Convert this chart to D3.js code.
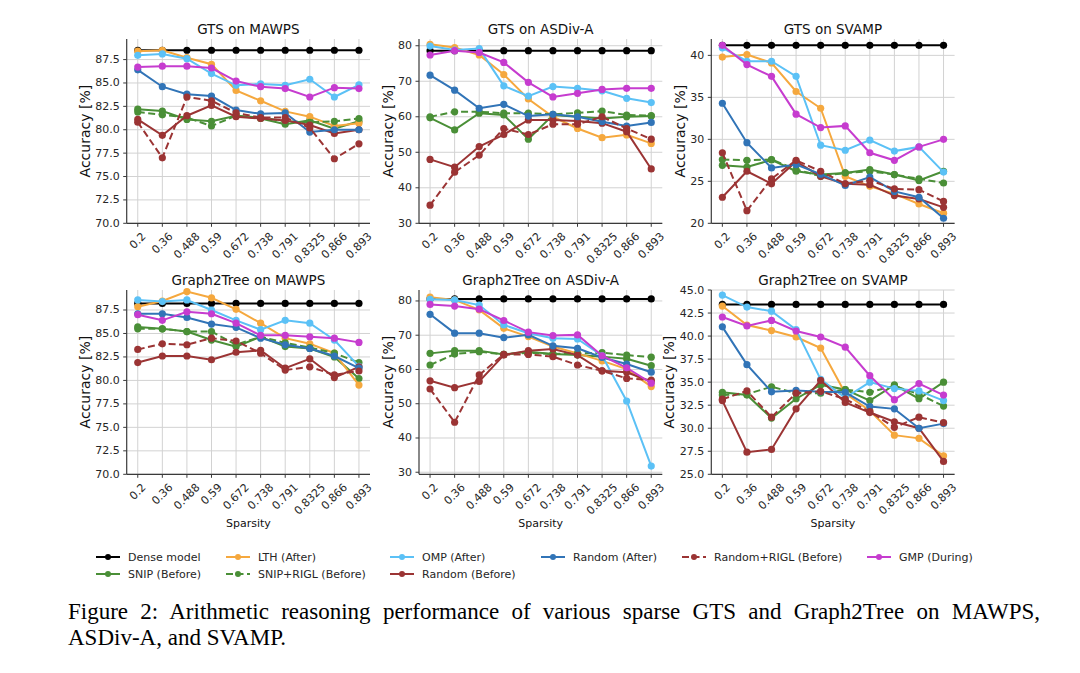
<!DOCTYPE html>
<html><head><meta charset="utf-8">
<script src="https://cdn.jsdelivr.net/npm/d3@7"></script>
<style>body{margin:0;background:#fff}svg{display:block}</style>
</head><body>
<svg id="fig" width="1080" height="673"></svg>
<script>
// ---------- data ----------
const sparsity = ["0.2","0.36","0.488","0.59","0.672","0.738","0.791","0.8325","0.866","0.893"];
const seriesNames = ["Dense model","SNIP (Before)","LTH (After)","SNIP+RIGL (Before)","OMP (After)","Random (Before)","Random (After)","Random+RIGL (Before)","GMP (During)"];
const seriesColors = ["#000000","#4a8f37","#f5a83e","#4a8f37","#5bc1f6","#9b3434","#3174b7","#9b3434","#c63ccf"];
const seriesDashed = [false,false,false,true,false,false,false,true,false];

// series order: Dense, SNIP, LTH, SNIP+RIGL, OMP, Random(Before), Random(After), Random+RIGL, GMP
const gtsMawps = [
  [88.5,88.5,88.5,88.5,88.5,88.5,88.5,88.5,88.5,88.5],
  [82.2,82.0,81.1,80.9,81.5,81.2,80.6,81.0,80.1,80.9],
  [88.4,88.5,87.7,87.0,84.2,83.1,81.96,81.4,80.4,80.7],
  [81.9,81.6,81.3,80.4,81.5,81.3,80.9,80.8,80.9,81.2],
  [87.96,88.1,87.6,86.0,84.75,84.9,84.75,85.4,83.5,84.8],
  [81.1,79.4,81.5,82.6,81.4,81.2,81.0,80.5,79.6,80.0],
  [86.4,84.6,83.8,83.6,82.1,81.7,81.8,79.75,80.0,80.0],
  [80.8,77.0,83.5,83.1,81.8,81.3,81.3,80.2,76.9,78.5],
  [86.7,86.8,86.8,86.6,85.2,84.6,84.4,83.5,84.5,84.4]
];
const gtsAsdiv = [
  [78.6,78.6,78.6,78.6,78.6,78.6,78.6,78.6,78.6,78.6],
  [59.7,56.3,61.0,60.5,53.7,60.5,60.0,59.5,60.0,60.2],
  [80.4,79.5,77.4,71.9,65.0,60.0,56.7,54.1,54.9,52.5],
  [60.0,61.4,61.4,61.0,61.0,60.7,61.1,61.6,60.5,60.3],
  [79.9,78.8,79.2,68.7,65.8,68.5,68.0,67.3,65.2,64.0],
  [48.0,45.8,51.6,55.0,59.1,59.1,58.8,58.2,55.8,45.3],
  [71.7,67.5,62.4,63.5,60.2,60.7,60.0,58.6,57.4,58.4],
  [35.1,44.4,49.2,56.7,55.0,57.9,57.9,60.0,56.7,53.7],
  [77.4,78.6,78.1,75.3,69.7,65.6,66.6,67.7,68.0,68.0]
];
const gtsSvamp = [
  [41.2,41.2,41.2,41.2,41.2,41.2,41.2,41.2,41.2,41.2],
  [26.9,26.7,27.55,26.2,25.8,26.0,26.4,25.8,25.1,26.2],
  [39.8,40.1,39.1,35.7,33.7,25.6,24.4,23.5,22.3,21.2],
  [27.6,27.5,27.6,26.4,25.6,26.0,26.2,25.8,25.3,24.8],
  [40.9,39.3,39.3,37.5,29.3,28.7,29.9,28.6,29.1,26.1],
  [23.1,26.2,24.7,27.35,25.6,24.7,24.6,23.3,22.9,21.9],
  [34.3,29.6,26.6,27.0,25.85,24.5,25.5,23.8,23.1,20.6],
  [28.4,21.5,25.3,27.5,26.2,24.7,25.1,24.1,24.0,22.6],
  [41.2,38.9,37.5,33.0,31.4,31.6,28.4,27.5,29.1,30.0]
];
const g2tMawps = [
  [88.2,88.2,88.2,88.2,88.2,88.2,88.2,88.2,88.2,88.2],
  [85.7,85.5,85.2,84.3,83.6,84.65,83.6,83.4,82.5,80.2],
  [87.85,88.46,89.46,88.8,87.57,86.1,84.5,83.9,82.9,79.5],
  [85.5,85.5,85.2,85.2,83.8,84.65,84.0,83.5,82.9,81.9],
  [88.57,88.4,88.57,87.5,86.4,85.4,86.4,86.1,84.3,81.5],
  [81.9,82.6,82.6,82.2,83.0,83.2,81.3,82.3,80.3,81.45],
  [87.1,87.1,86.7,86.0,85.65,84.5,83.8,83.4,82.6,81.3],
  [83.3,83.9,83.8,84.5,84.2,82.9,81.1,81.45,80.6,81.0],
  [87.0,86.4,87.3,87.1,86.1,84.8,84.8,84.65,84.5,84.05]
];
const g2tAsdiv = [
  [80.6,80.6,80.6,80.6,80.6,80.6,80.6,80.6,80.6,80.6],
  [64.7,65.5,65.5,64.4,65.2,64.5,64.2,63.75,63.1,61.1],
  [81.1,80.3,77.4,72.0,69.6,66.7,64.7,62.5,60.1,55.0],
  [61.3,64.5,65.2,64.4,64.9,64.5,64.7,64.9,64.2,63.6],
  [80.5,80.3,78.8,73.0,70.6,69.1,68.9,64.0,50.8,31.8],
  [56.7,54.7,56.5,64.2,65.5,66.0,64.2,59.6,59.2,56.5],
  [76.1,70.6,70.6,69.3,70.1,66.9,66.2,63.5,61.6,59.2],
  [54.3,44.6,58.4,64.4,64.4,63.75,61.3,59.6,57.4,56.9],
  [79.0,78.5,77.6,74.3,70.9,69.9,70.1,64.0,60.5,56.0]
];
const g2tSvamp = [
  [43.44,43.44,43.44,43.44,43.44,43.44,43.44,43.44,43.44,43.44],
  [33.9,33.6,31.1,33.2,34.7,34.2,33.0,34.7,33.2,35.0],
  [43.26,41.2,40.6,39.9,38.7,33.8,31.9,29.25,28.9,27.0],
  [33.6,33.7,34.5,33.8,33.8,34.2,33.9,34.6,33.7,32.4],
  [44.45,43.15,42.7,40.7,35.3,33.3,35.0,34.3,34.05,33.0],
  [33.0,27.4,27.7,32.1,35.2,32.8,31.7,30.7,30.0,26.4],
  [41.0,36.9,33.95,34.1,33.95,33.9,32.35,32.1,30.0,30.5],
  [33.15,34.05,31.2,33.8,34.0,33.15,31.8,30.1,31.2,30.6],
  [42.07,41.1,41.7,40.55,39.9,38.8,35.7,33.1,34.85,33.6]
];

const panelTitles = ["GTS on MAWPS","GTS on ASDiv-A","GTS on SVAMP","Graph2Tree on MAWPS","Graph2Tree on ASDiv-A","Graph2Tree on SVAMP"];
const panelData = [gtsMawps, gtsAsdiv, gtsSvamp, g2tMawps, g2tAsdiv, g2tSvamp];
const ticksMawps = [70,72.5,75,77.5,80,82.5,85,87.5];
const ticksAsdiv = [30,40,50,60,70,80];
const ticksGtsSvamp = [20,25,30,35,40];
const ticksG2tSvamp = [25,27.5,30,32.5,35,37.5,40,42.5,45];
const panelTicks = [ticksMawps, ticksAsdiv, ticksGtsSvamp, ticksMawps, ticksAsdiv, ticksG2tSvamp];
const panelFormats = [".1f","d","d",".1f","d",".1f"];
const panelYDomains = [[70,89.7],[30,81.9],[20,41.95],[70,89.63],[29.4,83.2],[25,45]];
const captionLines = ["Figure 2: Arithmetic reasoning performance of various sparse GTS and Graph2Tree on MAWPS,","ASDiv-A, and SVAMP."];

// ---------- layout ----------
const svg = d3.select("#fig");
const FONT = "DejaVu Sans, sans-serif";
const axW = 243.3, axH = 184.3;
const colX = [126.7, 419.0, 711.3];
const rowY = [39, 290];
const gridColor = "#d2d2d2", spineColor = "#3a3a3a", textColor = "#262626";

panelData.forEach((data, p) => {
  const r = Math.floor(p / 3), c = p % 3;
  const x0 = colX[c], y0 = rowY[r], x1 = x0 + axW, y1 = y0 + axH;
  const x = d3.scalePoint().domain(sparsity).range([x0, x1]).padding(0.45);
  const y = d3.scaleLinear().domain(panelYDomains[p]).range([y1, y0]);
  const g = svg.append("g");
  const ticks = panelTicks[p];
  const fmt = d3.format(panelFormats[p]);

  // grid
  g.selectAll(".hg").data(ticks).join("line")
    .attr("x1", x0).attr("x2", x1).attr("y1", d => y(d)).attr("y2", d => y(d))
    .attr("stroke", gridColor).attr("stroke-width", 1);
  g.selectAll(".vg").data(sparsity).join("line")
    .attr("x1", d => x(d)).attr("x2", d => x(d)).attr("y1", y0).attr("y2", y1)
    .attr("stroke", gridColor).attr("stroke-width", 1);

  // series
  const line = d3.line().x((d, i) => x(sparsity[i])).y(d => y(d));
  data.forEach((vals, s) => {
    g.append("path").attr("d", line(vals)).attr("fill", "none")
      .attr("stroke", seriesColors[s]).attr("stroke-width", 2)
      .attr("stroke-dasharray", seriesDashed[s] ? "7,3.5" : null);
    g.selectAll(null).data(vals).join("circle")
      .attr("cx", (d, i) => x(sparsity[i])).attr("cy", d => y(d)).attr("r", 3.6)
      .attr("fill", seriesColors[s]);
  });

  // spines
  g.append("line").attr("x1", x0).attr("x2", x0).attr("y1", y0).attr("y2", y1)
    .attr("stroke", spineColor).attr("stroke-width", 1.2);
  g.append("line").attr("x1", x0).attr("x2", x1).attr("y1", y1).attr("y2", y1)
    .attr("stroke", spineColor).attr("stroke-width", 1.2);

  // y ticks
  let maxW = 0;
  ticks.forEach(t => {
    g.append("line").attr("x1", x0 - 3.5).attr("x2", x0).attr("y1", y(t)).attr("y2", y(t))
      .attr("stroke", spineColor).attr("stroke-width", 1);
    const tx = g.append("text").attr("x", x0 - 7).attr("y", y(t)).attr("text-anchor", "end")
      .attr("dominant-baseline", "central").attr("font-family", FONT).attr("font-size", 11)
      .attr("fill", textColor).text(fmt(t));
    maxW = Math.max(maxW, tx.node().getComputedTextLength());
  });
  // x ticks
  sparsity.forEach(s => {
    g.append("line").attr("x1", x(s)).attr("x2", x(s)).attr("y1", y1).attr("y2", y1 + 3.5)
      .attr("stroke", spineColor).attr("stroke-width", 1);
    const t = g.append("text").attr("text-anchor", "middle").attr("dominant-baseline", "central")
      .attr("font-family", FONT).attr("font-size", 11).attr("fill", textColor).text(s);
    const w = t.node().getComputedTextLength();
    const b = (w + 12) / Math.SQRT2;
    t.attr("transform", `translate(${x(s)},${y1 + 7 + b / 2}) rotate(-45)`);
  });

  // title
  g.append("text").attr("x", (x0 + x1) / 2).attr("y", y0 - 4.8).attr("text-anchor", "middle")
    .attr("font-family", FONT).attr("font-size", 13.5).attr("fill", "#111").text(panelTitles[p]);
  // y label
  const lx = x0 - 7 - maxW - 5.5;
  g.append("text").attr("transform", `translate(${lx},${(y0 + y1) / 2}) rotate(-90)`)
    .attr("text-anchor", "middle").attr("font-family", FONT).attr("font-size", 14)
    .attr("fill", "#111").text("Accuracy [%]");
  // x label (bottom row only)
  if (r === 1) {
    g.append("text").attr("x", (x0 + x1) / 2).attr("y", 527).attr("text-anchor", "middle")
      .attr("font-family", FONT).attr("font-size", 11).attr("fill", "#111").text("Sparsity");
  }
});

// ---------- legend ----------
const legColX = [96, 226, 390, 541, 682, 867];
const legRowY = [557, 574];
const legSlots = [[0,0],[0,1],[1,0],[1,1],[2,0],[2,1],[3,0],[4,0],[5,0]];
const leg = svg.append("g");
seriesNames.forEach((name, s) => {
  const [ci, ri] = legSlots[s];
  const lx = legColX[ci], ly = legRowY[ri];
  leg.append("line").attr("x1", lx).attr("x2", lx + 24).attr("y1", ly).attr("y2", ly)
    .attr("stroke", seriesColors[s]).attr("stroke-width", 2)
    .attr("stroke-dasharray", seriesDashed[s] ? "7,3.5" : null);
  leg.append("circle").attr("cx", lx + 12).attr("cy", ly).attr("r", 3).attr("fill", seriesColors[s]);
  leg.append("text").attr("x", lx + 32).attr("y", ly).attr("dominant-baseline", "central")
    .attr("font-family", FONT).attr("font-size", 11).attr("fill", textColor).text(name);
});

// ---------- caption (first line justified like the LaTeX source) ----------
const capLeft = 68, capRight = 1040;
captionLines.forEach((t, i) => {
  const tx = svg.append("text").attr("x", capLeft).attr("y", 619 + i * 26)
    .attr("font-family", "Liberation Serif, Times New Roman, serif").attr("font-size", 23)
    .attr("fill", "#000").text(t);
  if (i === 0) {
    const w = tx.node().getComputedTextLength();
    const spaces = (t.match(/ /g) || []).length;
    if (w < capRight - capLeft && spaces > 0) {
      tx.attr("word-spacing", ((capRight - capLeft) - w) / spaces);
    }
  }
});
</script>
</body></html>
